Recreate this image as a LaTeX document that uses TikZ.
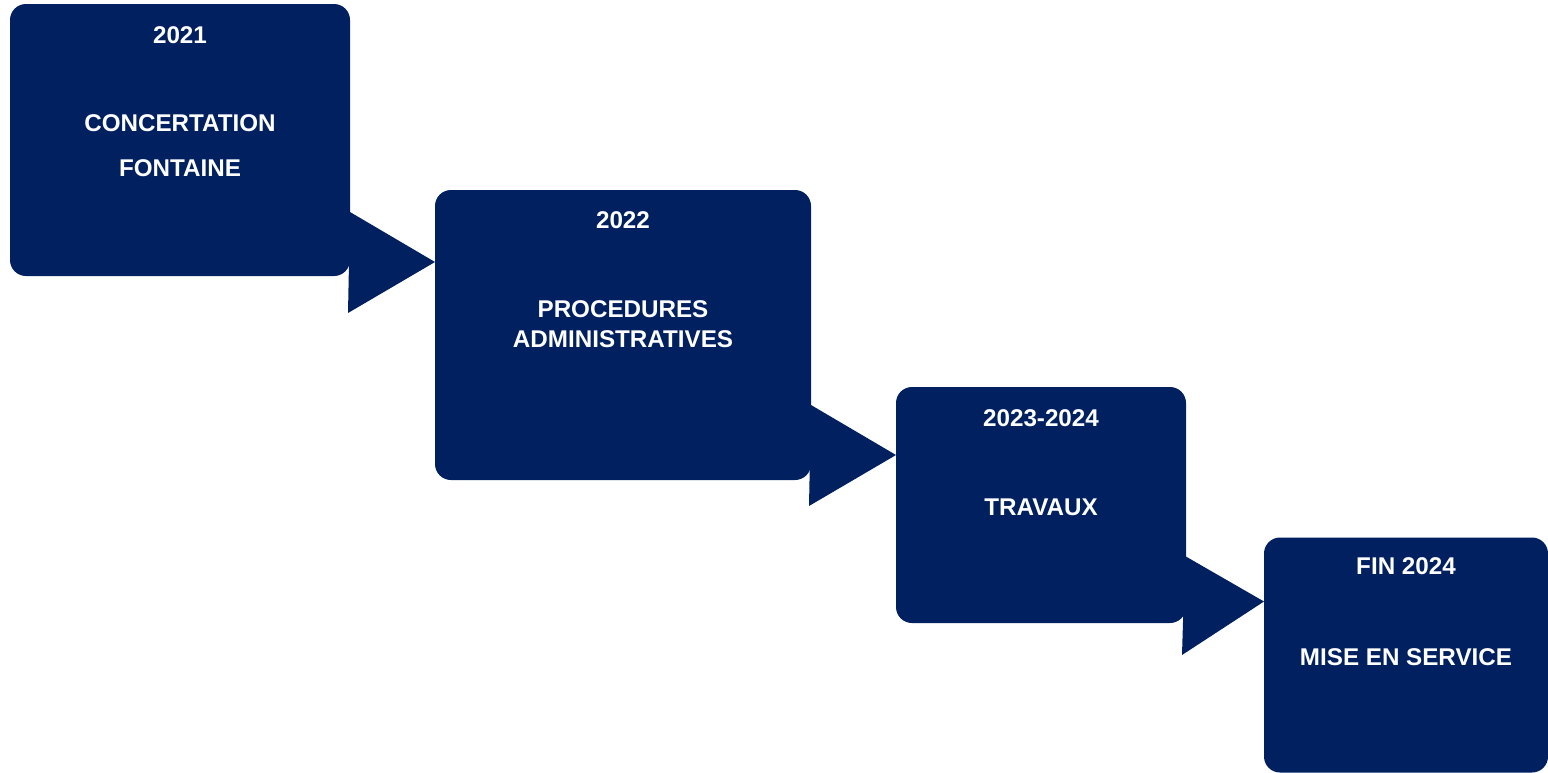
\documentclass[tikz,border=0pt]{standalone}
\usepackage{fontspec}
\setmainfont{Liberation Sans}
\usepackage{tikz}
\usetikzlibrary{calc}

\definecolor{navy}{RGB}{0,32,96}

\tikzset{
  stage/.style={fill=navy, rounded corners=16pt, inner sep=0pt, outer sep=0pt},
  stagetext/.style={text=white, font=\fontsize{24.2}{29}\selectfont\bfseries, inner sep=0pt},
  pointer/.style={fill=navy}
}

\begin{document}
\begin{tikzpicture}[x=1pt,y=-1pt]
   \useasboundingbox (0,0) rectangle (1548,772);

   % the four stages
   \draw (180,140) node[stage, minimum width=340pt, minimum height=272pt] (s1) {};
   \draw (623,335) node[stage, minimum width=376pt, minimum height=290pt] (s2) {};
   \draw (1041,505) node[stage, minimum width=290pt, minimum height=236pt] (s3) {};
   \draw (1406,655) node[stage, minimum width=284pt, minimum height=235pt] (s4) {};

   % arrows between stages
   \fill[pointer] ($(s1.south east)+(0,-64)$) -- ($(s2.north west)+(0,72)$) -- ($(s1.south east)+(-2,37)$) -- cycle;
   \fill[pointer] ($(s2.south east)+(0,-75)$) -- ($(s3.north west)+(0,68)$) -- ($(s2.south east)+(-2,26)$) -- cycle;
   \fill[pointer] ($(s3.south east)+(-1,-67)$) -- ($(s4.north west)+(0,64)$) -- ($(s3.south east)+(-4,32)$) -- cycle;

   \draw (180,35) node[stagetext] (year1) {2021};
     \draw (180,123) node[stagetext] (text1a) {CONCERTATION};
     \draw (180,168) node[stagetext] (text1b) {FONTAINE};

   \draw (623,220) node[stagetext] (year2) {2022};
     \draw (623,309) node[stagetext] (text2a) {PROCEDURES};
     \draw (623,339) node[stagetext] (text2b) {ADMINISTRATIVES};

   \draw (1041,418) node[stagetext] (year3) {2023-2024};
     \draw (1041,507) node[stagetext] (text3) {TRAVAUX};

   \draw (1406,566) node[stagetext] (year4) {FIN 2024};
     \draw (1406,657) node[stagetext] (text4) {MISE EN SERVICE};

\end{tikzpicture}
\end{document}
